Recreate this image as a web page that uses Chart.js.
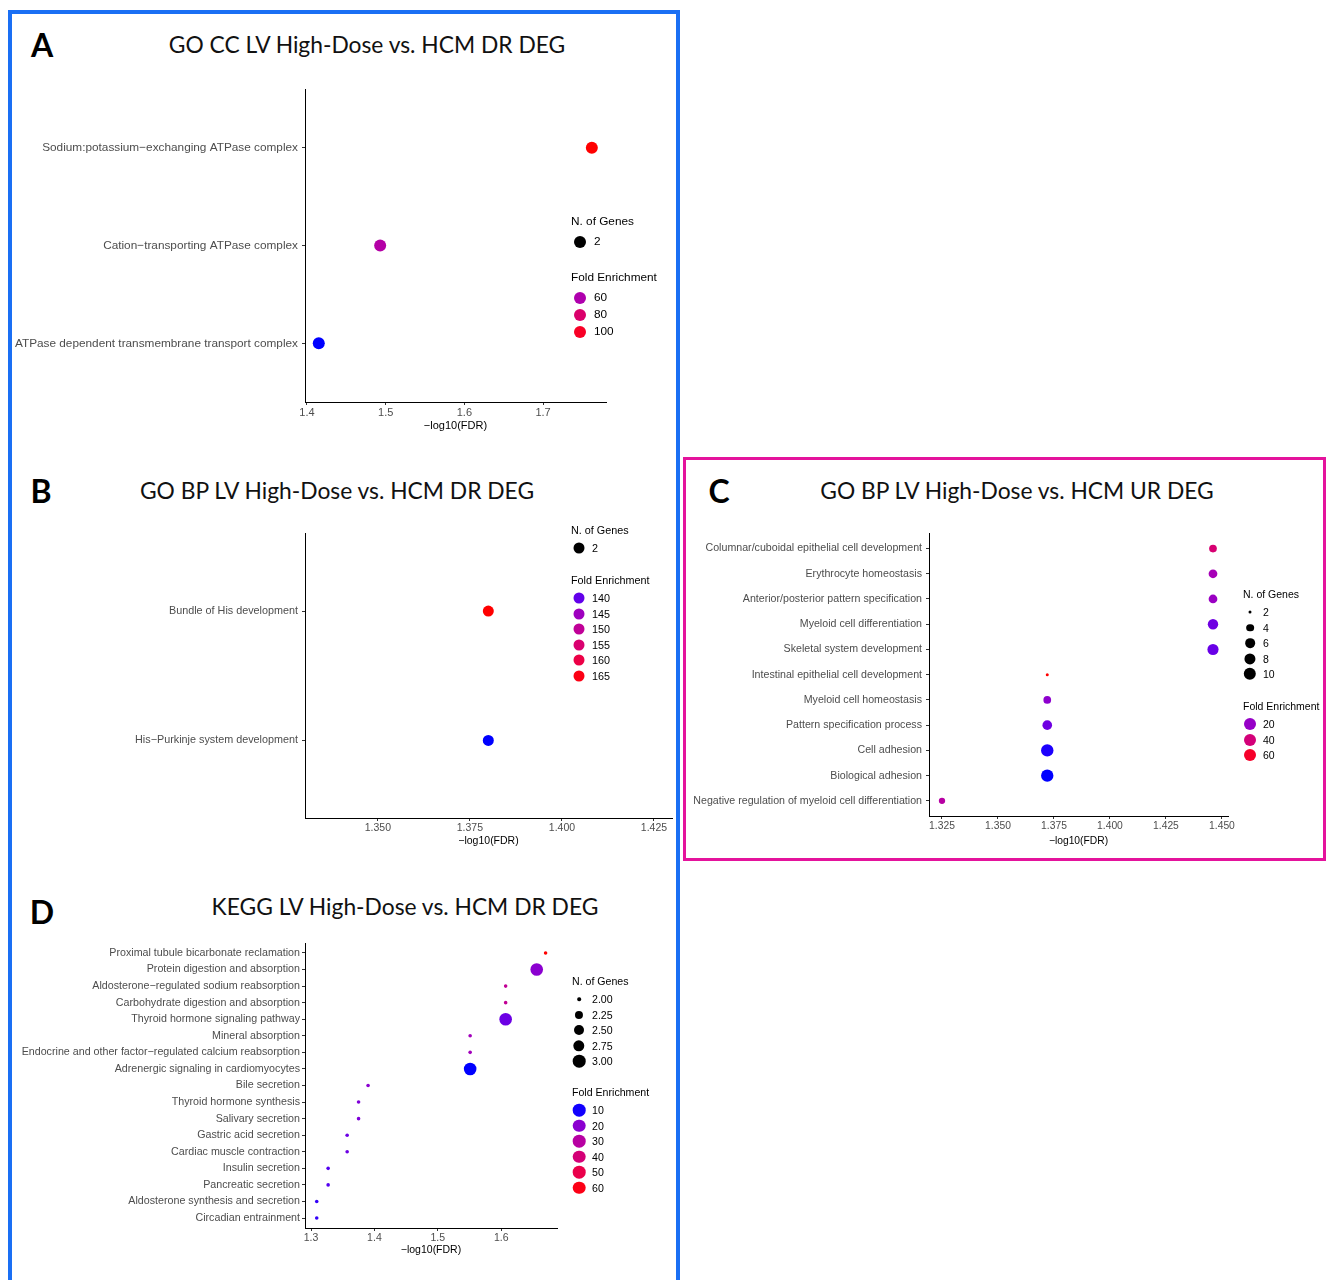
<!DOCTYPE html>
<html>
<head>
<meta charset="utf-8">
<script src="https://cdn.jsdelivr.net/npm/chart.js@4.4.1/dist/chart.umd.min.js"></script>
<style>
  body { margin: 0; width: 1326px; height: 1280px; position: relative; overflow: hidden; background: #fff;
         font-family: "Liberation Sans", Arial, sans-serif; }
  .abs { position: absolute; }
  .frame-blue { left: 8px; top: 10px; width: 664px; height: 1320px; border: 4px solid #1a6ff4; }
  .frame-pink { left: 683px; top: 457px; width: 637px; height: 398px; border: 3px solid #e4139c; }
  .title { font-family: Lato, "Open Sans", sans-serif; font-size: 22.8px; color: #111; white-space: nowrap;
           transform: translate(-50%, -50%); line-height: 1; }
  .letter { font-family: Lato, sans-serif; font-weight: bold; font-size: 32px; color: #000;
            transform: translate(-50%, -50%); line-height: 1; }
  .lg { white-space: nowrap; color: #000; transform: translateY(-50%); line-height: 1; }
  .dot { border-radius: 50%; transform: translate(-50%, -50%); }
  canvas { position: absolute; }
</style>
</head>
<body>
<div class="abs frame-blue"></div>
<div class="abs frame-pink"></div>

<script>
// ---- Panel A: GO CC, down-regulated
const A_TERMS = ["Sodium:potassium\u2212exchanging ATPase complex", "Cation\u2212transporting ATPase complex",
                 "ATPase dependent transmembrane transport complex"];
const A_FDR = [1.762, 1.493, 1.415];
const A_GENES = [2, 2, 2];
const A_FE = [106, 62, 36];
const A_XTICKS = [1.4, 1.5, 1.6, 1.7];
const A_GENE_KEYS = [2];
const A_FE_KEYS = [60, 80, 100];

// ---- Panel B: GO BP, down-regulated
const B_TERMS = ["Bundle of His development", "His\u2212Purkinje system development"];
const B_FDR = [1.380, 1.380];
const B_GENES = [2, 2];
const B_FE = [166, 137.5];
const B_XTICKS = [1.350, 1.375, 1.400, 1.425];
const B_GENE_KEYS = [2];
const B_FE_KEYS = [140, 145, 150, 155, 160, 165];

// ---- Panel C: GO BP, up-regulated
const C_TERMS = ["Columnar/cuboidal epithelial cell development", "Erythrocyte homeostasis",
  "Anterior/posterior pattern specification", "Myeloid cell differentiation", "Skeletal system development",
  "Intestinal epithelial cell development", "Myeloid cell homeostasis", "Pattern specification process",
  "Cell adhesion", "Biological adhesion", "Negative regulation of myeloid cell differentiation"];
const C_FDR = [1.446, 1.446, 1.446, 1.446, 1.446, 1.372, 1.372, 1.372, 1.372, 1.372, 1.325];
const C_GENES = [4, 5, 5, 7, 8, 2, 4, 6, 10, 10, 3];
const C_FE = [42, 24, 21, 13, 12, 66, 18, 13, 6.5, 6, 29];
const C_XTICKS = [1.325, 1.350, 1.375, 1.400, 1.425, 1.450];
const C_GENE_KEYS = [2, 4, 6, 8, 10];
const C_FE_KEYS = [20, 40, 60];

// ---- Panel D: KEGG, down-regulated
const D_TERMS = ["Proximal tubule bicarbonate reclamation", "Protein digestion and absorption",
  "Aldosterone\u2212regulated sodium reabsorption", "Carbohydrate digestion and absorption",
  "Thyroid hormone signaling pathway", "Mineral absorption",
  "Endocrine and other factor\u2212regulated calcium reabsorption", "Adrenergic signaling in cardiomyocytes",
  "Bile secretion", "Thyroid hormone synthesis", "Salivary secretion", "Gastric acid secretion",
  "Cardiac muscle contraction", "Insulin secretion", "Pancreatic secretion",
  "Aldosterone synthesis and secretion", "Circadian entrainment"];
const D_FDR = [1.670, 1.656, 1.607, 1.607, 1.607, 1.551, 1.551, 1.551, 1.390, 1.375, 1.375,
               1.357, 1.357, 1.327, 1.327, 1.309, 1.309];
const D_GENES = [2, 3, 2, 2, 3, 2, 2, 3, 2, 2, 2, 2, 2, 2, 2, 2, 2];
const D_FE = [62, 20, 33, 33, 15.5, 24.5, 24.5, 9.8, 20, 18, 18, 15.5, 15.5, 13, 13, 11, 11];
const D_XTICKS = [1.3, 1.4, 1.5, 1.6];
const D_GENE_KEYS = [2.00, 2.25, 2.50, 2.75, 3.00];
const D_FE_KEYS = [10, 20, 30, 40, 50, 60];

// blue -> red gradient interpolated in Lab, like ggplot's scale_colour_gradient
function toLab(r, g, b) {
  const lin = c => { c /= 255; return c <= 0.04045 ? c / 12.92 : Math.pow((c + 0.055) / 1.055, 2.4); };
  const R = lin(r), G = lin(g), B = lin(b);
  const X = (0.4124 * R + 0.3576 * G + 0.1805 * B) / 0.95047;
  const Y = 0.2126 * R + 0.7152 * G + 0.0722 * B;
  const Z = (0.0193 * R + 0.1192 * G + 0.9505 * B) / 1.08883;
  const f = t => t > 0.008856 ? Math.cbrt(t) : 7.787 * t + 16 / 116;
  return [116 * f(Y) - 16, 500 * (f(X) - f(Y)), 200 * (f(Y) - f(Z))];
}
function fromLab(L, a, b) {
  const fy = (L + 16) / 116, fx = fy + a / 500, fz = fy - b / 200;
  const inv = t => t * t * t > 0.008856 ? t * t * t : (t - 16 / 116) / 7.787;
  const X = inv(fx) * 0.95047, Y = inv(fy), Z = inv(fz) * 1.08883;
  const R = 3.2406 * X - 1.5372 * Y - 0.4986 * Z;
  const G = -0.9689 * X + 1.8758 * Y + 0.0415 * Z;
  const B = 0.0557 * X - 0.2040 * Y + 1.0570 * Z;
  const g = c => { c = Math.min(1, Math.max(0, c));
    return Math.round(255 * (c <= 0.0031308 ? 12.92 * c : 1.055 * Math.pow(c, 1 / 2.4) - 0.055)); };
  return `rgb(${g(R)},${g(G)},${g(B)})`;
}
const LAB_LO = toLab(0, 0, 255), LAB_HI = toLab(255, 0, 0);
function feColor(v, lo, hi) {
  const t = Math.min(1, Math.max(0, (v - lo) / (hi - lo)));
  return fromLab(...LAB_LO.map((c, i) => c + (LAB_HI[i] - c) * t));
}
function geneRadius(v, lo, hi, rmin, rmax) {
  if (hi === lo) return rmax;
  return rmin + (rmax - rmin) * Math.sqrt((v - lo) / (hi - lo));
}

function addDiv(cls, x, y, text, style) {
  const d = document.createElement('div');
  d.className = 'abs ' + cls;
  d.style.left = x + 'px';
  d.style.top = y + 'px';
  if (text !== undefined) d.textContent = text;
  Object.assign(d.style, style || {});
  document.body.appendChild(d);
  return d;
}

function panel(p) {
  const feLo = Math.min(...p.fe), feHi = Math.max(...p.fe);
  const gLo = Math.min(...p.genes), gHi = Math.max(...p.genes);
  const rad = v => geneRadius(v, gLo, gHi, p.rmin, p.rmax);
  const font = { family: '"Liberation Sans", Arial, sans-serif', size: p.fs };
  const xfont = { family: '"Liberation Sans", Arial, sans-serif', size: p.xfs };

  addDiv('letter', p.letter[0], p.letter[1], p.name);
  addDiv('title', p.title[0], p.title[1], p.titleText);

  const cv = document.createElement('canvas');
  const top = p.pt - 10, W = p.pr - p.cl + 24, H = p.cb - top;
  cv.width = W; cv.height = H;
  cv.style.left = p.cl + 'px'; cv.style.top = top + 'px';
  cv.style.width = W + 'px'; cv.style.height = H + 'px';
  document.body.appendChild(cv);

  const axisCommon = {
    grid: { drawOnChartArea: false, drawTicks: true, tickLength: 3, color: '#333', lineWidth: 1 },
    border: { display: true, color: '#000', width: 1 }
  };

  new Chart(cv.getContext('2d'), {
    type: 'scatter',
    data: {
      datasets: [{
        data: p.fdr.map((x, i) => ({ x: x, y: i + 1 })),
        pointRadius: p.genes.map(rad),
        backgroundColor: p.fe.map(v => feColor(v, feLo, feHi)),
        borderWidth: 0,
        clip: false
      }]
    },
    options: {
      responsive: false,
      animation: false,
      events: [],
      layout: { padding: { top: 10, right: 24, left: 0, bottom: 0 } },
      plugins: { legend: { display: false }, tooltip: { enabled: false } },
      scales: {
        x: Object.assign({}, axisCommon, {
          type: 'linear', min: p.xmin, max: p.xmax,
          afterBuildTicks: s => { s.ticks = p.xticks.map(v => ({ value: v })); },
          afterFit: s => { s.height = p.cb - p.pb; },
          ticks: { callback: v => v.toFixed(p.dec), color: '#4d4d4d', font: xfont, padding: 1,
                   maxRotation: 0, autoSkip: false },
          title: { display: true, text: '\u2212log10(FDR)', color: '#000', font: xfont, padding: 0 }
        }),
        y: Object.assign({}, axisCommon, {
          type: 'linear', reverse: true, min: 0.4, max: p.terms.length + 0.6,
          afterBuildTicks: s => { s.ticks = p.terms.map((t, i) => ({ value: i + 1 })); },
          afterFit: s => { s.width = p.pl - p.cl; },
          ticks: { callback: v => p.terms[Math.round(v) - 1], color: '#4d4d4d', font: font,
                   padding: p.ypad, autoSkip: false }
        })
      }
    }
  });

  // legend: size keys then colour keys
  const L = p.lg;
  const lfs = p.lfs + 'px';
  addDiv('lg', L.x, L.gTitle, 'N. of Genes', { fontSize: lfs });
  p.geneKeys.forEach((v, i) => {
    const y = L.gTitle + L.first + i * L.step;
    const r = rad(v);
    addDiv('dot', L.dx, y, undefined, { width: 2 * r + 'px', height: 2 * r + 'px', background: '#000' });
    addDiv('lg', L.tx, y, p.geneFmt(v), { fontSize: lfs });
  });
  addDiv('lg', L.x, L.fTitle, 'Fold Enrichment', { fontSize: lfs });
  p.feKeys.forEach((v, i) => {
    const y = L.fTitle + L.first + i * L.step;
    addDiv('dot', L.dx, y, undefined, { width: 2 * L.fr + 'px', height: 2 * L.fr + 'px',
      background: feColor(v, feLo, feHi) });
    addDiv('lg', L.tx, y, String(v), { fontSize: lfs });
  });
}

panel({
  name: 'A', letter: [42, 45], title: [367, 44], titleText: 'GO CC LV High-Dose vs. HCM DR DEG',
  terms: A_TERMS, fdr: A_FDR, genes: A_GENES, fe: A_FE, xticks: A_XTICKS, dec: 1,
  xmin: 1.3975, xmax: 1.780, cl: 10, pl: 305, pr: 606, pt: 88, pb: 402, cb: 433,
  fs: 11.8, xfs: 11, ypad: 4, rmin: 6, rmax: 6, lfs: 11.8, geneKeys: A_GENE_KEYS, feKeys: A_FE_KEYS,
  geneFmt: v => String(v),
  lg: { x: 571, dx: 580, tx: 594, gTitle: 222, fTitle: 278, first: 20, step: 17, fr: 6 }
});

panel({
  name: 'B', letter: [41, 491], title: [337, 490], titleText: 'GO BP LV High-Dose vs. HCM DR DEG',
  terms: B_TERMS, fdr: B_FDR, genes: B_GENES, fe: B_FE, xticks: B_XTICKS, dec: 3,
  xmin: 1.3302, xmax: 1.4299, cl: 10, pl: 305, pr: 672, pt: 533, pb: 818, cb: 847,
  fs: 10.8, xfs: 10.5, ypad: 4, rmin: 5.5, rmax: 5.5, lfs: 10.8, geneKeys: B_GENE_KEYS, feKeys: B_FE_KEYS,
  geneFmt: v => String(v),
  lg: { x: 571, dx: 579, tx: 592, gTitle: 530, fTitle: 580, first: 18, step: 15.5, fr: 5.5 }
});

panel({
  name: 'C', letter: [719, 491], title: [1017, 490], titleText: 'GO BP LV High-Dose vs. HCM UR DEG',
  terms: C_TERMS, fdr: C_FDR, genes: C_GENES, fe: C_FE, xticks: C_XTICKS, dec: 3,
  xmin: 1.3192, xmax: 1.4527, cl: 686, pl: 929, pr: 1228, pt: 533, pb: 816, cb: 847,
  fs: 10.65, xfs: 10.3, ypad: 4, rmin: 1.5, rmax: 6.2, lfs: 10.5, geneKeys: C_GENE_KEYS, feKeys: C_FE_KEYS,
  geneFmt: v => String(v),
  lg: { x: 1243, dx: 1250, tx: 1263, gTitle: 594, fTitle: 706, first: 18, step: 15.5, fr: 6 }
});

panel({
  name: 'D', letter: [42, 912], title: [405, 906], titleText: 'KEGG LV High-Dose vs. HCM DR DEG',
  terms: D_TERMS, fdr: D_FDR, genes: D_GENES, fe: D_FE, xticks: D_XTICKS, dec: 1,
  xmin: 1.2905, xmax: 1.688, cl: 10, pl: 305, pr: 557, pt: 943, pb: 1228, cb: 1256,
  fs: 10.7, xfs: 10.5, ypad: 2, rmin: 1.8, rmax: 6.3, lfs: 10.6, geneKeys: D_GENE_KEYS, feKeys: D_FE_KEYS,
  geneFmt: v => v.toFixed(2),
  lg: { x: 572, dx: 579, tx: 592, gTitle: 981, fTitle: 1092, first: 18, step: 15.5, fr: 6.3 }
});
</script>
</body>
</html>
